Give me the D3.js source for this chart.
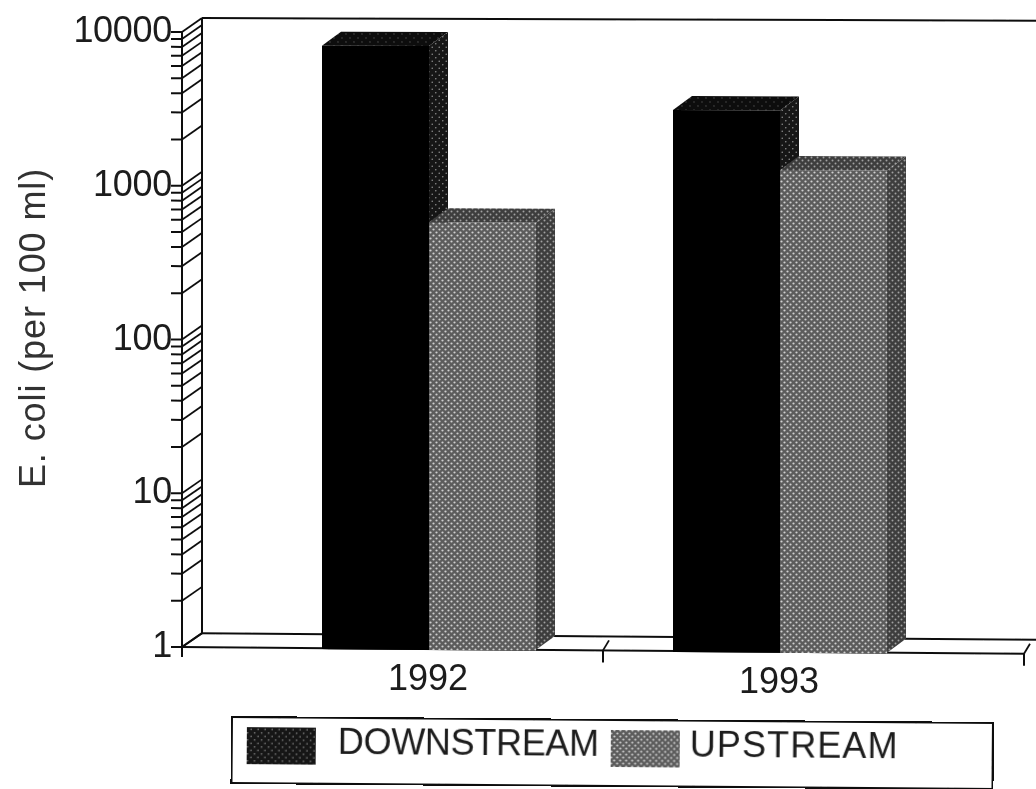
<!DOCTYPE html>
<html>
<head>
<meta charset="utf-8">
<script src="https://cdnjs.cloudflare.com/ajax/libs/d3/7.8.5/d3.min.js"></script>
<style>
  html, body { margin: 0; background: #fff; }
  svg { display: block; }
  text { font-family: "Liberation Sans", Arial, sans-serif; fill: #1c1c1c; }
</style>
</head>
<body>
<div id="chart"></div>
<script>
const YEARS = ['1992', '1993'];
const SERIES = ['DOWNSTREAM', 'UPSTREAM'];
const DOWNSTREAM = [8200, 3200];
const UPSTREAM = [590, 1315];
const Y_TICKS = [1, 10, 100, 1000, 10000];

const W = 1036, H = 789;
const DEPTH = { x: 19, y: -14 };

const svg = d3.select('#chart').append('svg').attr('width', W).attr('height', H);
const defs = svg.append('defs');

// scan softness
defs.append('filter').attr('id', 'soft')
  .append('feGaussianBlur').attr('stdDeviation', 0.55);

// halftone fills
function halftone(id, bg, dot, size, r) {
  const p = defs.append('pattern').attr('id', id)
    .attr('width', size).attr('height', size).attr('patternUnits', 'userSpaceOnUse');
  p.append('rect').attr('width', size).attr('height', size).attr('fill', bg);
  p.append('circle').attr('cx', size / 4).attr('cy', size / 4).attr('r', r).attr('fill', dot);
  p.append('circle').attr('cx', size * 3 / 4).attr('cy', size * 3 / 4).attr('r', r).attr('fill', dot);
}
halftone('grey', '#5c5c5c', '#cfcfcf', 6, 1.1);
halftone('greyDark', '#3c3c3c', '#a0a0a0', 6, 1.0);
halftone('blackSide', '#181818', '#8a8a8a', 7, 0.8);
halftone('blackTop', '#0c0c0c', '#5a5a5a', 8, 0.7);

const y = d3.scaleLog().domain([1, 10000]).range([647, 32]);
const floorX = d3.scaleLinear().domain([0, 2]).range([182, 1024]);
const x0 = d3.scalePoint().domain(YEARS).range([428, 779]);
const x1 = d3.scaleBand().domain(SERIES).range([-106, 108]).paddingInner(0);

// the scanned page is slightly skewed, more towards the bottom
const tilt = (px, py) => (px - 182) * (0.003 + 0.005 * (py / 647));
const pt = (px, py) => [px, py + tilt(px, py)];
const poly = pts => pts.map(p => pt(p[0], p[1]).join(',')).join(' ');

const g = svg.append('g').attr('filter', 'url(#soft)');
const axisColor = '#111';

function segment(a, b, w) {
  const p = pt(a[0], a[1]), q = pt(b[0], b[1]);
  g.append('line').attr('x1', p[0]).attr('y1', p[1]).attr('x2', q[0]).attr('y2', q[1])
    .attr('stroke', axisColor).attr('stroke-width', w || 2);
}

const axisX = floorX(0);
const y0 = y.range()[0], yTop = y.range()[1];

// wall and floor outline
segment([axisX, yTop], [axisX, y0 + 3]);
segment([axisX + DEPTH.x + 1, yTop + DEPTH.y], [axisX + DEPTH.x + 1, y0 + DEPTH.y]);
segment([axisX + DEPTH.x + 1, yTop + DEPTH.y], [W, yTop + DEPTH.y]);
segment([axisX, y0], [floorX(2), y0]);
segment([axisX + DEPTH.x + 1, y0 + DEPTH.y], [W, y0 + DEPTH.y]);
segment([axisX, y0], [axisX + DEPTH.x + 1, y0 + DEPTH.y]);

// y ticks, decades plus the log minors
const minor = [];
for (let d = 1; d < 10000; d *= 10) for (let k = 2; k < 10; k++) minor.push(d * k);
Y_TICKS.concat(minor).forEach(v => {
  const py = y(v);
  segment([axisX - 11, py], [axisX, py]);
  segment([axisX, py], [axisX + DEPTH.x + 1, py + DEPTH.y], 1.8);
});

// floor ticks
floorX.ticks(2).forEach(v => {
  const px = floorX(v);
  if (v > 0) {
    segment([px, y0], [px, y0 + 12]);
    segment([px, y0], [px + DEPTH.x - 13, y0 + DEPTH.y + 4], 1.8);
  } else {
    segment([px, y0], [px, y0 + 10]);
  }
});

// bars
function bar(year, name, value) {
  const xl = x0(year) + x1(name), xr = xl + x1.bandwidth();
  const top = y(value);
  const front = name === 'UPSTREAM' ? 'url(#grey)' : '#040404';
  const side = name === 'UPSTREAM' ? 'url(#greyDark)' : 'url(#blackSide)';
  const lid = name === 'UPSTREAM' ? 'url(#greyDark)' : 'url(#blackTop)';
  g.append('polygon').attr('fill', side)
    .attr('points', poly([[xr, top], [xr + DEPTH.x, top + DEPTH.y], [xr + DEPTH.x, y0 + DEPTH.y], [xr, y0]]));
  g.append('polygon').attr('fill', lid)
    .attr('points', poly([[xl, top], [xl + DEPTH.x, top + DEPTH.y], [xr + DEPTH.x, top + DEPTH.y], [xr, top]]));
  g.append('polygon').attr('fill', front)
    .attr('points', poly([[xl, top], [xr, top], [xr, y0 + 1], [xl, y0 + 1]]));
}
YEARS.forEach((yr, i) => {
  bar(yr, 'DOWNSTREAM', DOWNSTREAM[i]);
  bar(yr, 'UPSTREAM', UPSTREAM[i]);
});

// tick labels
Y_TICKS.forEach(v => {
  g.append('text').attr('x', axisX - 10).attr('y', y(v) + 10)
    .attr('text-anchor', 'end').attr('font-size', 36).attr('letter-spacing', -0.3)
    .text(d3.format('d')(v));
});
YEARS.forEach(yr => {
  const px = x0(yr), p = pt(px, 690);
  g.append('text').attr('x', p[0]).attr('y', p[1] - 2)
    .attr('text-anchor', 'middle').attr('font-size', 36)
    .text(yr);
});
g.append('text')
  .attr('transform', 'translate(45,328) rotate(-90)')
  .attr('text-anchor', 'middle').attr('font-size', 36).attr('letter-spacing', 0.9)
  .style('fill', '#333')
  .text('E. coli (per 100 ml)');

// legend
const legend = g.append('g').attr('transform', 'translate(232,717) rotate(0.45)');
legend.append('rect').attr('width', 761).attr('height', 66)
  .attr('fill', 'none').attr('stroke', axisColor).attr('stroke-width', 2);
const legendItems = d3.scaleOrdinal().domain(SERIES).range([15, 379]);
const legendText = d3.scaleOrdinal().domain(SERIES).range([106, 458]);
const legendFill = d3.scaleOrdinal().domain(SERIES).range(['url(#blackSide)', 'url(#grey)']);
SERIES.forEach(name => {
  legend.append('rect').attr('x', legendItems(name)).attr('y', 10)
    .attr('width', 69).attr('height', 37).attr('fill', legendFill(name));
  legend.append('text').attr('x', legendText(name)).attr('y', 36)
    .attr('font-size', 36).attr('letter-spacing', name === 'UPSTREAM' ? 1.1 : -0.3)
    .text(name);
});
</script>
</body>
</html>
